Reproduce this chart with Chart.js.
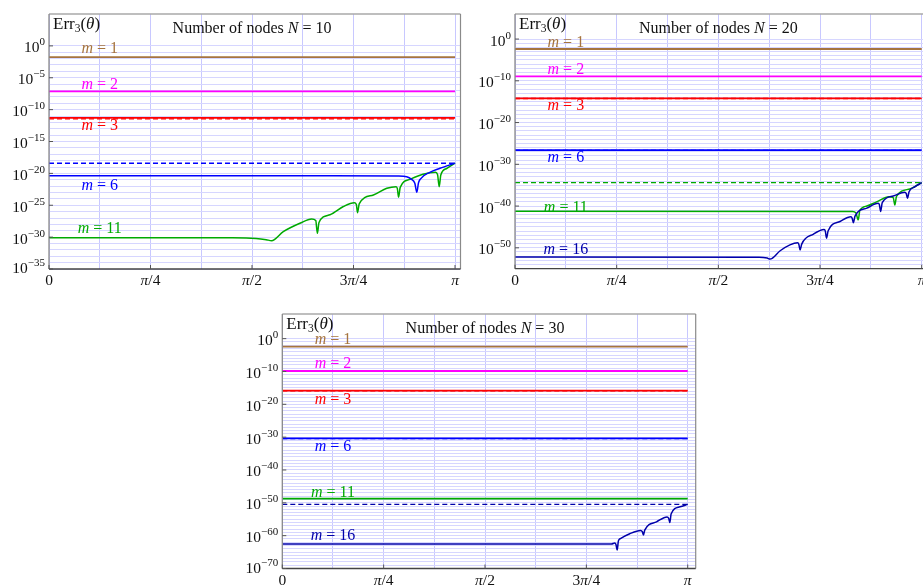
<!DOCTYPE html>
<html><head><meta charset="utf-8">
<script src="https://cdn.jsdelivr.net/npm/chart.js@4.4.1/dist/chart.umd.min.js"></script>
<style>
html,body{margin:0;padding:0;background:#fff;overflow:hidden;}
#wrap{position:relative;width:923px;height:588px;overflow:hidden;}
canvas{position:absolute;left:0;top:0;}
</style></head><body><div id="wrap">
<canvas id="c1" width="940" height="588"></canvas>
<canvas id="c2" width="940" height="588"></canvas>
<canvas id="c3" width="940" height="588"></canvas>
</div>
<script>
// ---------- DATA (theta in units of π) ----------
const flatTheta = [0, 1];
const xTickTheta = [0, 0.25, 0.5, 0.75, 1];
const xTickLabels = ['0', 'π/4', 'π/2', '3π/4', 'π'];
const gridTheta = [0, 0.125, 0.25, 0.375, 0.5, 0.625, 0.75, 0.875, 1];

// N = 10
const n10_yTickExp = [0, -5, -10, -15, -20, -25, -30, -35];
const n10_m1 = [1.7e-2, 1.7e-2];
const n10_m2 = [7.1e-8, 7.1e-8];
const n10_m3 = [5.0e-12, 5.0e-12];
const n10_m3_bound = [3.6e-12, 3.6e-12];
const n10_m6_bound = [4.0e-19, 4.0e-19];
const n10_m6_theta = [0, 0.70, 0.86, 0.881, 0.893, 0.901, 0.906, 0.910, 0.914, 0.938, 0.963, 1.0];
const n10_m6 = [4.4e-21, 4.2e-21, 3.8e-21, 3.0e-21, 1.17e-21, 2.8e-22, 1.1e-23, 3.2e-22, 1.17e-21, 1.48e-20, 6.3e-20, 4.0e-19];
const n10_m11_theta = [0, 0.45, 0.51, 0.535, 0.548, 0.577, 0.618, 0.647, 0.657, 0.661, 0.665, 0.692, 0.725, 0.752, 0.757, 0.760, 0.764, 0.799, 0.832, 0.855, 0.858, 0.861, 0.865, 0.889, 0.921, 0.952, 0.957, 0.961, 0.965, 0.980, 1.0];
const n10_m11 = [8.3e-31, 7.9e-31, 6.3e-31, 4.0e-31, 2.75e-31, 7.2e-30, 1.48e-28, 7.1e-28, 4.0e-28, 4.0e-30, 2.0e-28, 3.2e-27, 6.3e-26, 2.5e-25, 1.26e-25, 6.9e-27, 1.6e-25, 4.0e-24, 4.6e-23, 8.3e-23, 4.0e-23, 1.8e-24, 6.3e-23, 1.17e-21, 7.1e-21, 1.48e-20, 6.3e-21, 8.3e-23, 5.6e-21, 6.3e-20, 4.0e-19];

// N = 20
const n20_yTickExp = [0, -10, -20, -30, -40, -50];
const n20_m1 = [4.2e-3, 4.2e-3];
const n20_m2 = [1.1e-9, 1.1e-9];
const n20_m3 = [6.3e-15, 6.3e-15];
const n20_m3_bound = [5.8e-15, 5.8e-15];
const n20_m6 = [2.5e-27, 2.5e-27];
const n20_m6_bound = [2.3e-27, 2.3e-27];
const n20_m11_bound = [4.0e-35, 4.0e-35];
const n20_m11_theta = [0, 0.830, 0.838, 0.844, 0.848, 0.865, 0.889, 0.920, 0.930, 0.934, 0.938, 0.971, 1.0];
const n20_m11 = [5.5e-42, 5.0e-42, 2.5e-42, 5.0e-44, 1.0e-41, 1.0e-40, 1.0e-39, 1.6e-38, 1.0e-38, 1.8e-40, 2.0e-38, 1.26e-36, 4.0e-35];
const n20_m16_theta = [0, 0.60, 0.620, 0.627, 0.652, 0.676, 0.695, 0.698, 0.701, 0.705, 0.734, 0.760, 0.763, 0.766, 0.770, 0.799, 0.826, 0.829, 0.832, 0.836, 0.865, 0.893, 0.896, 0.899, 0.903, 0.930, 0.958, 0.962, 0.965, 0.969, 0.983, 1.0];
const n20_m16 = [6.3e-53, 5.6e-53, 3.5e-53, 2.0e-53, 2.0e-51, 5.0e-50, 1.6e-49, 6.3e-50, 3.2e-51, 7.9e-50, 2.0e-47, 2.5e-46, 1.0e-46, 2.0e-48, 1.26e-46, 2.0e-44, 2.8e-43, 1.26e-43, 1.0e-44, 4.0e-43, 3.2e-41, 4.5e-40, 2.0e-40, 5.0e-42, 6.3e-40, 2.5e-38, 2.0e-37, 1.0e-37, 7.9e-39, 2.75e-37, 4.0e-36, 4.0e-35];

// N = 30
const n30_yTickExp = [0, -10, -20, -30, -40, -50, -60, -70];
const n30_m1 = [3.7e-3, 3.7e-3];
const n30_m2 = [1.4e-10, 1.4e-10];
const n30_m3 = [1.4e-16, 1.4e-16];
const n30_m3_bound = [1.3e-16, 1.3e-16];
const n30_m6 = [4.0e-31, 4.0e-31];
const n30_m6_bound = [3.7e-31, 3.7e-31];
const n30_m11 = [2.0e-49, 2.0e-49];
const n30_m16_bound = [3.3e-51, 3.3e-51];
const n30_m16_theta = [0, 0.812, 0.820, 0.823, 0.826, 0.829, 0.834, 0.857, 0.884, 0.888, 0.891, 0.894, 0.923, 0.949, 0.953, 0.956, 0.959, 0.981, 1.0];
const n30_m16 = [2.8e-63, 2.8e-63, 6.3e-63, 2.0e-63, 4.0e-65, 2.5e-62, 1.26e-61, 4.0e-60, 4.0e-59, 1.6e-59, 1.6e-60, 5.0e-59, 1.6e-56, 5.0e-55, 2.0e-55, 1.0e-56, 4.0e-54, 6.3e-52, 3.3e-51];

// curve labels: text and the value at which the label baseline sits (label centred at θ = π/8)
const n10_labelText = ['m = 1', 'm = 2', 'm = 3', 'm = 6', 'm = 11'];
const n10_labelAt = [7.9e-2, 1.7e-7, 5.4e-14, 2.5e-23, 4.5e-30];
const n20_labelText = ['m = 1', 'm = 2', 'm = 3', 'm = 6', 'm = 11', 'm = 16'];
const n20_labelAt = [1.05e-2, 4.3e-9, 1.0e-17, 4.0e-30, 4.5e-42, 3.2e-52];
const n30_labelText = ['m = 1', 'm = 2', 'm = 3', 'm = 6', 'm = 11', 'm = 16'];
const n30_labelAt = [1.8e-2, 1.4e-9, 1.0e-20, 7.9e-35, 7.9e-49, 5.0e-62];

// ---------- STYLE ----------
const PI = Math.PI;
const COL = { brown: '#a6743f', magenta: '#ff00ff', red: '#ff0000', blue: '#0000ff', green: '#00aa00', navy: '#0000aa' };
const FONT = '"Liberation Serif", "Times New Roman", serif';
const GRID_H = 'rgb(214,214,255)';
const GRID_V = 'rgb(200,200,255)';

function pts(theta, vals) { return theta.map((t, i) => ({ x: t * PI, y: vals[i] })); }
function line(theta, vals, color, w, dash) {
  return { data: pts(theta, vals), borderColor: color, borderWidth: w || 1.5, borderDash: dash ? [5, 3] : [],
    pointRadius: 0, fill: false, cubicInterpolationMode: 'monotone', clip: 0 };
}

function fontOf(p) { return (p.it ? 'italic ' : '') + (p.size || 15) + 'px ' + FONT; }
function rich(str, italics, size, color) {
  const parts = [];
  for (const ch of str) {
    const it = italics.indexOf(ch) >= 0;
    const last = parts[parts.length - 1];
    if (last && last.it === it) last.t += ch; else parts.push({ t: ch, it, size, color });
  }
  return parts;
}
function drawRich(c, parts, x, y, align) {
  let w = 0;
  parts.forEach(p => { c.font = fontOf(p); p.w = c.measureText(p.t).width; w += p.w; });
  let cx = align === 'right' ? x - w : align === 'center' ? x - w / 2 : x;
  c.textAlign = 'left'; c.textBaseline = 'alphabetic';
  parts.forEach(p => { c.font = fontOf(p); c.fillStyle = p.color || '#111'; c.fillText(p.t, cx, y + (p.dy || 0)); cx += p.w; });
}
function seg(c, x1, y1, x2, y2, col, w) {
  c.beginPath(); c.strokeStyle = col; c.lineWidth = w; c.moveTo(x1, y1); c.lineTo(x2, y2); c.stroke();
}

function drawDeco(chart, o) {
  const c = chart.ctx, a = chart.chartArea, xs = chart.scales.x, ys = chart.scales.y;
  c.save();
  // frame
  seg(c, a.left, a.top, a.right, a.top, '#a8a8a8', 1.5);
  seg(c, a.right, a.top, a.right, a.bottom, '#8a8a8a', 1.2);
  seg(c, a.left, a.top, a.left, a.bottom, '#8a8a8a', 1.3);
  seg(c, a.left, a.bottom, a.right, a.bottom, '#444', 1.3);
  // y ticks and labels
  o.yTickExp.forEach(e => {
    const y = ys.getPixelForValue(Math.pow(10, e));
    seg(c, a.left, y, a.left + 4, y, '#555', 1);
    const base = Math.min(y + 6.5, a.bottom + 4);
    drawRich(c, [{ t: '10', size: 15.5 }, { t: e === 0 ? '0' : '\u2212' + (-e), size: 11, dy: -7 }], a.left - 4, base, 'right');
  });
  // x ticks and labels
  xTickTheta.forEach((t, i) => {
    const x = xs.getPixelForValue(t * PI);
    seg(c, x, a.bottom, x, a.bottom - 4, '#555', 1);
    drawRich(c, rich(xTickLabels[i], 'π', 15.5), x, a.bottom + 16, 'center');
  });
  // title
  drawRich(c, [{ t: 'Number of nodes ', size: 16 }, { t: 'N', size: 16, it: true }, { t: ' = ' + o.nodes, size: 16 }],
    xs.getPixelForValue(0.5 * PI), a.top + 18.5, 'center');
  // Err_3(θ)
  drawRich(c, [{ t: 'Err', size: 17 }, { t: '3', size: 11.5, dy: 3 }, { t: '(', size: 17 }, { t: 'θ', size: 17, it: true }, { t: ')', size: 17 }], a.left + 4, a.top + 14.5, 'left');
  // curve labels
  o.labelText.forEach((t, i) => {
    drawRich(c, rich(t, 'm', 16, o.labelColors[i]), xs.getPixelForValue(PI / 8), ys.getPixelForValue(o.labelAt[i]), 'center');
  });
  c.restore();
}

function makeChart(id, o) {
  return new Chart(document.getElementById(id), {
    type: 'line',
    data: { datasets: o.datasets },
    options: {
      responsive: false, animation: false, events: [],
      layout: { autoPadding: false, padding: o.pad },
      plugins: { legend: { display: false }, tooltip: { enabled: false }, title: { display: false } },
      scales: {
        x: {
          type: 'linear', min: 0, max: o.xmax * PI,
          afterBuildTicks: s => { s.ticks = gridTheta.map(t => ({ value: t * PI })); },
          ticks: { display: false }, grid: { color: GRID_V, lineWidth: 1, drawTicks: false }, border: { display: false }
        },
        y: {
          type: 'logarithmic', min: o.ymin, max: o.ymax,
          afterBuildTicks: s => { const t = []; for (let e = 0; e >= o.gridMinExp; e--) t.push({ value: Math.pow(10, e) }); s.ticks = t; },
          ticks: { display: false }, grid: { color: GRID_H, lineWidth: 1, drawTicks: false }, border: { display: false }
        }
      }
    },
    plugins: [{ id: 'deco' + id, afterDraw(chart) { drawDeco(chart, o); } }]
  });
}

// Chart N = 10
makeChart('c1', {
  pad: { left: 49, top: 14, right: 940 - 460.5, bottom: 588 - 269 },
  xmax: 1.0135, ymin: 1e-35, ymax: 1e5, gridMinExp: -35,
  yTickExp: n10_yTickExp, nodes: 10,
  labelText: n10_labelText, labelAt: n10_labelAt,
  labelColors: [COL.brown, COL.magenta, COL.red, COL.blue, COL.green],
  datasets: [
    line(n10_m6_theta, n10_m6, COL.blue, 1.5),
    line(n10_m11_theta, n10_m11, COL.green, 1.5),
    line(flatTheta, n10_m6_bound, COL.blue, 1.5, true),
    line(flatTheta, n10_m3_bound, COL.red, 1.3, true),
    line(flatTheta, n10_m3, COL.red, 1.7),
    line(flatTheta, n10_m2, COL.magenta, 1.8),
    line(flatTheta, n10_m1, COL.brown, 1.8)
  ]
});

// Chart N = 20
makeChart('c2', {
  pad: { left: 515, top: 14, right: 940 - 927.8, bottom: 588 - 268.7 },
  xmax: 1.015, ymin: 1e-55, ymax: 1e6, gridMinExp: -55,
  yTickExp: n20_yTickExp, nodes: 20,
  labelText: n20_labelText, labelAt: n20_labelAt,
  labelColors: [COL.brown, COL.magenta, COL.red, COL.blue, COL.green, COL.navy],
  datasets: [
    line(n20_m16_theta, n20_m16, COL.navy, 1.5),
    line(n20_m11_theta, n20_m11, COL.green, 1.5),
    line(flatTheta, n20_m11_bound, COL.green, 1.3, true),
    line(flatTheta, n20_m6_bound, COL.blue, 1.3, true),
    line(flatTheta, n20_m6, COL.blue, 1.7),
    line(flatTheta, n20_m3_bound, COL.red, 1.3, true),
    line(flatTheta, n20_m3, COL.red, 1.7),
    line(flatTheta, n20_m2, COL.magenta, 1.8),
    line(flatTheta, n20_m1, COL.brown, 1.8)
  ]
});

// Chart N = 30
makeChart('c3', {
  pad: { left: 282.3, top: 314, right: 940 - 695.7, bottom: 588 - 568.5 },
  xmax: 1.0197, ymin: 1e-70, ymax: 3.16e7, gridMinExp: -70,
  yTickExp: n30_yTickExp, nodes: 30,
  labelText: n30_labelText, labelAt: n30_labelAt,
  labelColors: [COL.brown, COL.magenta, COL.red, COL.blue, COL.green, COL.navy],
  datasets: [
    line(n30_m16_theta, n30_m16, COL.navy, 1.5),
    line(flatTheta, n30_m16_bound, COL.navy, 1.3, true),
    line(flatTheta, n30_m11, COL.green, 1.7),
    line(flatTheta, n30_m6_bound, COL.blue, 1.3, true),
    line(flatTheta, n30_m6, COL.blue, 1.7),
    line(flatTheta, n30_m3_bound, COL.red, 1.3, true),
    line(flatTheta, n30_m3, COL.red, 1.7),
    line(flatTheta, n30_m2, COL.magenta, 1.8),
    line(flatTheta, n30_m1, COL.brown, 1.8)
  ]
});
</script>
</body></html>
